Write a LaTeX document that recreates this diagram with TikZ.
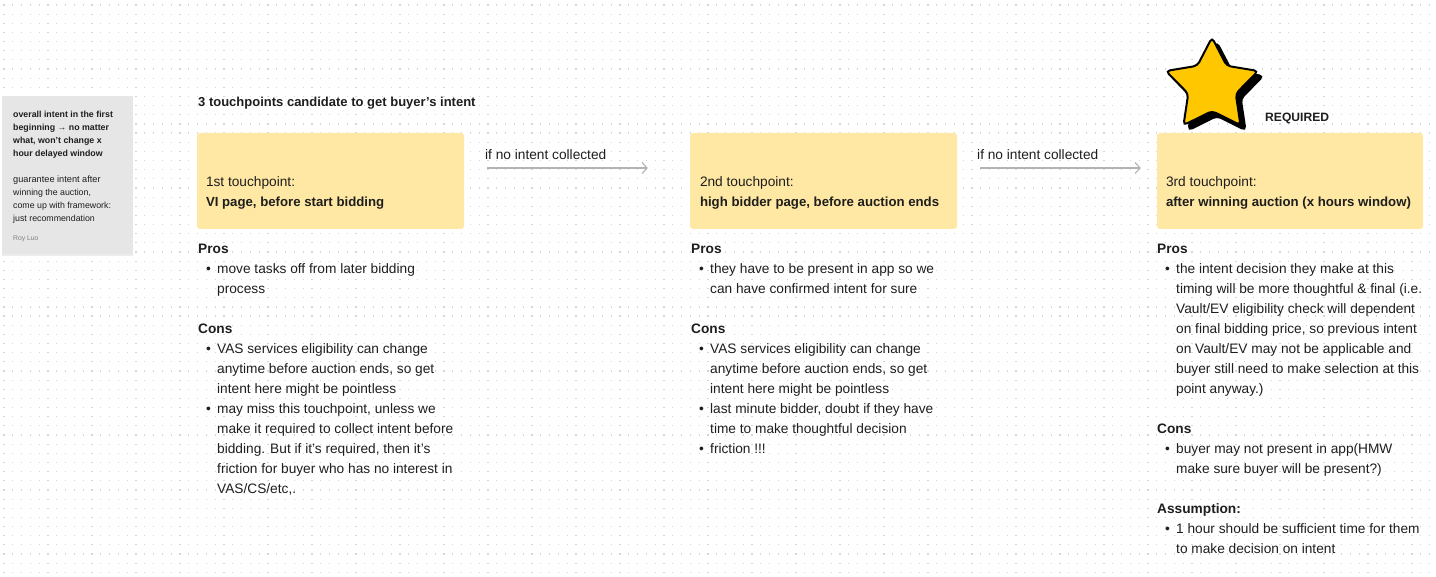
\documentclass[tikz,border=0pt]{standalone}
\usepackage{fontspec}
\setmainfont{Liberation Sans}
\usetikzlibrary{positioning,arrows.meta,shapes.geometric,shadows}

\definecolor{ink}{HTML}{1E1E1E}
\definecolor{tpyellow}{HTML}{FFE8A3}
\definecolor{stickygray}{HTML}{E6E6E6}
\definecolor{stargold}{HTML}{FFC700}
\definecolor{dotgray}{HTML}{D6D6D6}
\definecolor{flowgray}{HTML}{B3B3B3}

\newcommand{\bulitem}[1]{\makebox[19pt][l]{\hspace{8pt}\textbullet}#1}
\newcommand{\bulcont}[1]{\hspace*{19pt}#1}
\newcommand{\tpbold}[1]{{\bfseries\fontsize{13.2}{19.5}\selectfont #1}}

\begin{document}
\begin{tikzpicture}[x=1pt, y=-1pt,
  gridrow/.style={dotgray, line width=1.2pt, dash pattern=on 1.1pt off 7.7pt},
  sticky/.style={rectangle, fill=stickygray, minimum width=131pt, minimum height=158pt, inner sep=0,
    drop shadow={shadow xshift=0pt, shadow yshift=-2pt, opacity=0.15}},
  tpbox/.style={rectangle, fill=tpyellow, rounded corners=3pt, minimum height=96pt, inner sep=0},
  tptext/.style={anchor=north west, inner sep=0, align=left, text=ink, font=\fontsize{13.7}{19.5}\selectfont},
  notes/.style={anchor=north west, inner sep=0, align=left, text=ink, font=\fontsize{13.7}{20}\selectfont},
  flow/.style={-{Straight Barb[length=5pt,width=11pt]}, flowgray, line width=1.1pt},
  flowlabel/.style={anchor=base west, inner sep=0, text=ink, font=\fontsize{13.7}{16}\selectfont},
  bigstar/.style={star, star points=5, star point ratio=1.94, minimum size=97pt, inner sep=0,
    draw=black, line width=2pt, rounded corners=4pt}
]
\useasboundingbox[fill=white] (0,0) rectangle (1436,577);

% dot grid
\foreach \r in {0,...,62}
  \draw[gridrow] (3.4,{5+\r*9.15}) -- (1436,{5+\r*9.15});

% sticky note
\node[sticky] (note) at (67.5,175) {};
\node[anchor=north west, inner sep=0, align=left, text=ink, font=\fontsize{8.8}{13}\selectfont] (notetxt) at (13,107.9)
  {\strut\textbf{overall intent in the first}\\
   \textbf{beginning → no matter}\\
   \textbf{what, won’t change x}\\
   \textbf{hour delayed window}\\
   \strut\\
   \fontsize{9.2}{13}\selectfont guarantee intent after\\
   winning the auction,\\
   come up with framework:\\
   just recommendation};
\node[anchor=base west, inner sep=0, text=gray, font=\fontsize{6.8}{8}\selectfont] (author) at (13,240.5) {Roy Luo};

% title
\node[anchor=base west, inner sep=0, text=ink, font=\bfseries\fontsize{13}{16}\selectfont] (title) at (198,106.5)
  {3 touchpoints candidate to get buyer’s intent};

% star
\node[bigstar, fill=black] (starshadow) at (1217,91) {};
\node[bigstar, fill=stargold] (star) at (1212,86) {};
\node[anchor=base west, inner sep=0, text=ink, font=\bfseries\fontsize{12.1}{14}\selectfont] (required) at (1265,121.5) {REQUIRED};

% touchpoints
\node[tpbox, minimum width=267pt] (tp1) at (330.5,181) {};
\node[tpbox, minimum width=267pt] (tp2) at (823.5,181) {};
\node[tpbox, minimum width=266pt] (tp3) at (1290,181) {};

\node[tptext] (tp1txt) at ([shift={(9pt,-40pt)}]tp1.north west)
  {\strut 1st touchpoint:\\ \tpbold{VI page, before start bidding}};
\node[tptext] (tp2txt) at ([shift={(10pt,-40pt)}]tp2.north west)
  {\strut 2nd touchpoint:\\ \tpbold{high bidder page, before auction ends}};
\node[tptext] (tp3txt) at ([shift={(9pt,-40pt)}]tp3.north west)
  {\strut 3rd touchpoint:\\ \tpbold{after winning auction (x hours window)}};

% connectors
\draw[flow, shorten <=23pt, shorten >=42pt] ([yshift=13pt]tp1.east) -- ([yshift=13pt]tp2.west);
\draw[flow, shorten <=23pt, shorten >=16pt] ([yshift=13pt]tp2.east) -- ([yshift=13pt]tp3.west);
\node[flowlabel] (flow1) at (485,159.5) {if no intent collected};
\node[flowlabel] (flow2) at (977,159.5) {if no intent collected};

% pros / cons
\node[notes] (col1) at (198,239.5)
  {\strut\textbf{Pros}\\
   \bulitem{move tasks off from later bidding}\\
   \bulcont{process}\\
   \strut\\
   \textbf{Cons}\\
   \bulitem{VAS services eligibility can change}\\
   \bulcont{anytime before auction ends, so get}\\
   \bulcont{intent here might be pointless}\\
   \bulitem{may miss this touchpoint, unless we}\\
   \bulcont{make it required to collect intent before}\\
   \bulcont{bidding. But if it’s required, then it’s}\\
   \bulcont{friction for buyer who has no interest in}\\
   \bulcont{VAS/CS/etc,.}};

\node[notes] (col2) at (691,239.5)
  {\strut\textbf{Pros}\\
   \bulitem{they have to be present in app so we}\\
   \bulcont{can have confirmed intent for sure}\\
   \strut\\
   \textbf{Cons}\\
   \bulitem{VAS services eligibility can change}\\
   \bulcont{anytime before auction ends, so get}\\
   \bulcont{intent here might be pointless}\\
   \bulitem{last minute bidder, doubt if they have}\\
   \bulcont{time to make thoughtful decision}\\
   \bulitem{friction !!!}};

\node[notes] (col3) at (1157,239.5)
  {\strut\textbf{Pros}\\
   \bulitem{the intent decision they make at this}\\
   \bulcont{timing will be more thoughtful \& final (i.e.}\\
   \bulcont{Vault/EV eligibility check will dependent}\\
   \bulcont{on final bidding price, so previous intent}\\
   \bulcont{on Vault/EV may not be applicable and}\\
   \bulcont{buyer still need to make selection at this}\\
   \bulcont{point anyway.)}\\
   \strut\\
   \textbf{Cons}\\
   \bulitem{buyer may not present in app(HMW}\\
   \bulcont{make sure buyer will be present?)}\\
   \strut\\
   \textbf{Assumption:}\\
   \bulitem{1 hour should be sufficient time for them}\\
   \bulcont{to make decision on intent}};
\end{tikzpicture}
\end{document}
